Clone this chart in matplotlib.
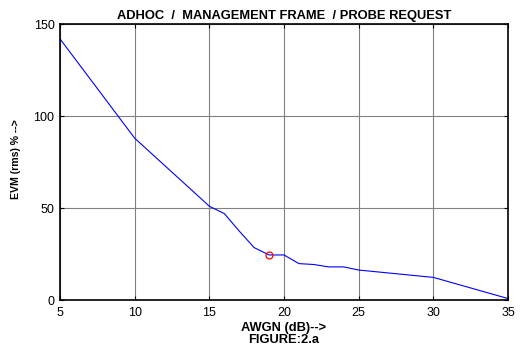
import matplotlib
matplotlib.use("Agg")
import matplotlib.pyplot as plt

# AWGN (dB) vs EVM (rms) %
awgn = [5, 10, 15, 16, 17, 18, 19, 20, 21, 22, 23, 24, 25, 30, 35]
evm = [142, 88, 51, 47, 37.5, 28.5, 24.5, 24.5, 19.8, 19.3, 18, 18, 16.3, 12.3, 0.8]
mark_x = [19]
mark_y = [24.5]
xticks = [5, 10, 15, 20, 25, 30, 35]
yticks = [0, 50, 100, 150]

plt.rcParams['font.family'] = ['Liberation Sans', 'DejaVu Sans']

fig = plt.figure(figsize=(5.32, 3.45), dpi=100)
ax = fig.add_axes([0.1128, 0.1304, 0.8421, 0.7996])

ax.plot(awgn, evm, color='blue', lw=0.8)
ax.plot(mark_x, mark_y, 'o', mfc='none', mec='red', ms=5, mew=0.9)

ax.set_xlim(5, 35)
ax.set_ylim(0, 150)
ax.set_xticks(xticks)
ax.set_yticks(yticks)
ax.grid(True, color='#808080', lw=0.8)
ax.tick_params(direction='in', top=True, right=True, labelsize=9, length=3)
ax.tick_params(axis='x', pad=5)
ax.tick_params(axis='y', pad=4)
for s in ax.spines.values():
    s.set_linewidth(1.2)

ax.set_title('ADHOC  /  MANAGEMENT FRAME  / PROBE REQUEST', fontsize=9.3, fontweight='bold', pad=4)
ax.set_xlabel('AWGN (dB)-->\nFIGURE:2.a', fontsize=9.3, fontweight='bold', labelpad=2, linespacing=1.05)
ax.set_ylabel('EVM (rms) % -->', fontsize=7.6, fontweight='bold')
ax.yaxis.set_label_coords(-0.086, 0.512)

fig.savefig('out.png', dpi=100)
